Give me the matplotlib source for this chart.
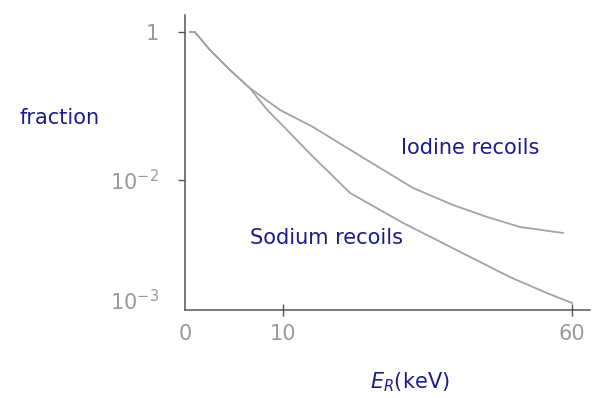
import numpy as np
import matplotlib
matplotlib.use("Agg")
import matplotlib.pyplot as plt

# values
iodine_e = [0.5, 1.0, 2.55, 4.6, 6.6, 9.7, 15.2, 21.1, 26.8, 32.5, 39.4, 45.3, 51.0, 58.4]
iodine_frac = [1.0, 1.0, 0.571, 0.306, 0.175, 0.0883, 0.052, 0.0271, 0.0145,
               0.00858, 0.00619, 0.00492, 0.00406, 0.00362]
sodium_e = [0.5, 1.0, 2.55, 4.6, 6.6, 8.4, 10.7, 15.2, 18.1, 21.6, 26.8, 30.8,
            36.6, 42.4, 49.3, 55.7, 60.0]
sodium_frac = [1.0, 1.0, 0.571, 0.306, 0.175, 0.0883, 0.0474, 0.0205, 0.0124,
               0.00779, 0.00562, 0.00438, 0.00316, 0.00228, 0.00155, 0.00114, 0.000944]

x_ticks = [0, 10, 60]
x_labels = ["0", "10", "60"]
y_ticks = [1, 1e-2, 1e-3]
y_labels = ["1", "$10^{-2}$", "$10^{-3}$"]

# the hand drawn axes are not evenly spaced, so use piecewise scales
XK = [-200, 0, 10, 60, 300]
XP = [-200 * 9.8, 0, 98, 387, 387 + 240 * 5.78]
YK = [-20, -3, -2, 0, 20]
YP = [-17 * 120 - 268, -268, -148, 0, 20 * 74]


def xf(v):
    return np.interp(v, XK, XP)


def xi(v):
    return np.interp(v, XP, XK)


def yf(v):
    v = np.clip(np.asarray(v, dtype=float), 1e-20, None)
    return np.interp(np.log10(v), YK, YP)


def yi(v):
    return 10 ** np.interp(v, YP, YK)


fig = plt.figure(figsize=(6.08, 3.98), dpi=100)
ax = fig.add_axes([185 / 608, 88 / 398, 405 / 608, 295 / 398])
ax.set_xscale("function", functions=(xf, xi))
ax.set_yscale("function", functions=(yf, yi))
ax.set_xlim(0, 63.1)
ax.set_ylim(10 ** (-3 - 10 / 120), 10 ** (17 / 74))

curve_col = "#a3a3a3"
ax.plot(iodine_e, iodine_frac, color=curve_col, lw=1.3)
ax.plot(sodium_e, sodium_frac, color=curve_col, lw=1.3)

for s in ["top", "right"]:
    ax.spines[s].set_visible(False)
for s in ["left", "bottom"]:
    ax.spines[s].set_color("#555555")
    ax.spines[s].set_linewidth(1.1)

ax.set_xticks(x_ticks)
ax.set_xticklabels(x_labels)
ax.set_yticks(y_ticks)
ax.set_yticklabels(y_labels)
ax.minorticks_off()
ax.tick_params(axis="x", direction="inout", length=8, width=1, color="#555555",
               labelcolor="#9a9a9a", labelsize=15, pad=6)
ax.tick_params(axis="y", direction="out", length=5, width=1, color="#555555",
               labelcolor="#9a9a9a", labelsize=15, pad=14)
ax.xaxis.get_major_ticks()[0].tick1line.set_visible(False)
ax.yaxis.get_major_ticks()[2].tick1line.set_visible(False)

text_col = "#1c1c8a"
ax.set_ylabel("fraction", rotation=0, color=text_col, fontsize=15,
              ha="center", va="center")
ax.yaxis.set_label_coords(-0.309, 0.651)
ax.set_xlabel("$E_R$(keV)", color=text_col, fontsize=15, va="center")
ax.xaxis.set_label_coords(0.556, -0.244)

ax.text(42.4, 0.027, "Iodine recoils", color=text_col, fontsize=15,
        ha="center", va="center")
ax.text(17.6, 0.0033, "Sodium recoils", color=text_col, fontsize=15,
        ha="center", va="center")

fig.savefig("out.png", dpi=100)
